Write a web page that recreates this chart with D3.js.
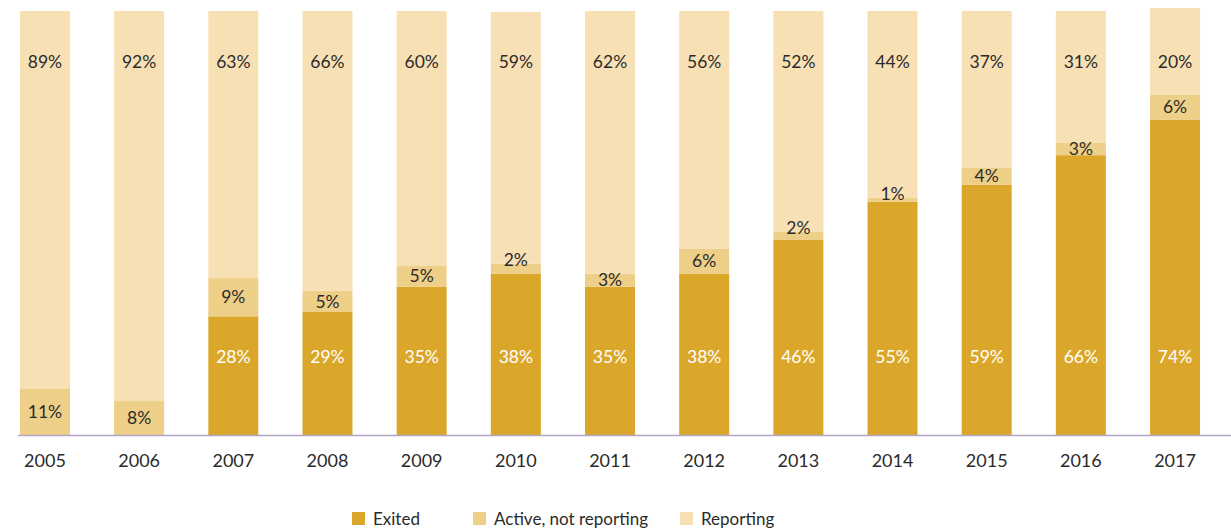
<!DOCTYPE html>
<html>
<head>
<meta charset="utf-8">
<script src="https://cdn.jsdelivr.net/npm/d3@7"></script>
<style>
  body { margin: 0; background: #fff; }
  text { font-family: Lato, "Open Sans", sans-serif; fill: #2b2b2b; }
</style>
</head>
<body>
<div id="chart"></div>
<script>
// data (percent of cohort)
var years = ['2005','2006','2007','2008','2009','2010','2011','2012','2013','2014','2015','2016','2017'];
var exited = [0, 0, 28, 29, 35, 38, 35, 38, 46, 55, 59, 66, 74.4];
var activeNotReporting = [11, 8, 9, 5, 5, 2.4, 3, 6, 2, 1, 4, 3, 5.9];
var reporting = [89, 92, 63, 66, 60, 59.4, 62, 56, 52, 44, 37, 31, 20.4];
var seriesNames = ['Exited', 'Active, not reporting', 'Reporting'];
var seriesColors = ['#dba72b', '#eecf88', '#f8e0b5'];

var width = 1231, height = 531;
var baseY = 435, topY = 11;

var svg = d3.select("#chart").append("svg")
    .attr("width", width)
    .attr("height", height);

var xScale = d3.scaleBand().domain(years).range([0, 1220])
    .paddingInner(0.469).paddingOuter(0.212);
var yScale = d3.scaleLinear().domain([0, 100]).range([baseY, topY]);

var rows = years.map(function(y, i) {
  return { year: y, exited: exited[i], active: activeNotReporting[i], reporting: reporting[i] };
});
var keys = ['exited', 'active', 'reporting'];
var stacked = d3.stack().keys(keys)(rows);

// bars
var layers = svg.selectAll(".layer")
    .data(stacked)
    .enter().append("g")
    .attr("class", "layer")
    .attr("fill", function(d, i) { return seriesColors[i]; });

layers.selectAll("rect")
    .data(function(d) { return d; })
    .enter().append("rect")
    .attr("x", function(d) { return xScale(d.data.year); })
    .attr("width", xScale.bandwidth())
    .attr("y", function(d) { return yScale(d[1]); })
    .attr("height", function(d) { return yScale(d[0]) - yScale(d[1]); });

// labels drawn after all the bars so thin slices don't hide them
// exited and reporting sit on fixed rows, active is centred in its slice
var labelG = svg.append("g").attr("class", "labels");
stacked.forEach(function(layer, li) {
  labelG.selectAll(".lbl" + li)
    .data(layer.filter(function(d) { return d[1] - d[0] > 0; }))
    .enter().append("text")
    .attr("class", "lbl" + li)
    .attr("x", function(d) { return xScale(d.data.year) + xScale.bandwidth() / 2; })
    .attr("y", function(d) {
      if (li === 0) return 357;
      if (li === 2) return 62;
      var t = yScale(d[1]), b = yScale(d[0]);
      if (b - t < 12) return t - 4;
      return (t + b) / 2;
    })
    .attr("dy", "0.35em")
    .attr("text-anchor", "middle")
    .style("font-size", "17.5px")
    .style("fill", li === 0 ? "#fff" : "#2b2b2b")
    .text(function(d) { return Math.round(d[1] - d[0]) + "%"; });
});

// x axis
var xAxis = d3.axisBottom(xScale).tickSize(0).tickPadding(19);
var axisG = svg.append("g")
    .attr("transform", "translate(0," + baseY + ")")
    .call(xAxis);
axisG.select(".domain").remove();
axisG.selectAll("text")
    .style("font-size", "18px")
    .style("font-family", "Lato, 'Open Sans', sans-serif")
    .style("fill", "#2b2b2b");
svg.append("line")
    .attr("x1", 18).attr("x2", 1231)
    .attr("y1", baseY + 0.5).attr("y2", baseY + 0.5)
    .attr("stroke", "#b3a5c6")
    .attr("stroke-width", 1.5);

// legend
var legendX = [352, 473, 680];
var legend = svg.selectAll(".legend")
    .data(seriesNames)
    .enter().append("g")
    .attr("class", "legend")
    .attr("transform", function(d, i) { return "translate(" + legendX[i] + ",512)"; });
legend.append("rect")
    .attr("width", 13).attr("height", 13)
    .attr("fill", function(d, i) { return seriesColors[i]; });
legend.append("text")
    .attr("x", 21).attr("y", 7)
    .attr("dy", "0.35em")
    .style("font-size", "17px")
    .text(function(d) { return d; });
</script>
</body>
</html>
